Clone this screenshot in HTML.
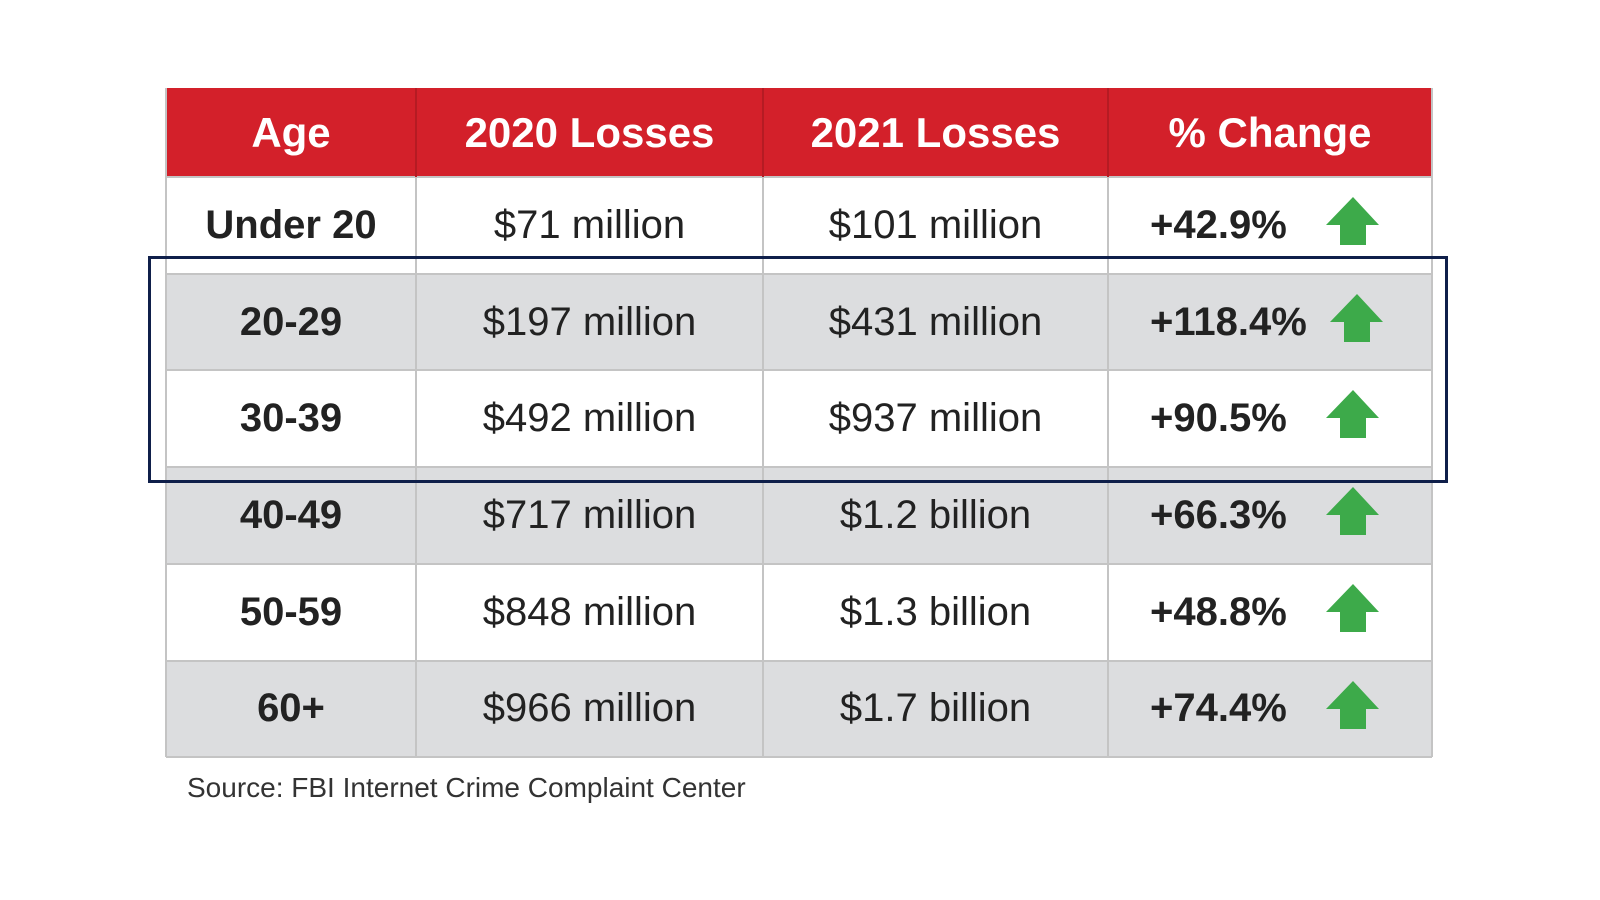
<!DOCTYPE html>
<html><head><meta charset="utf-8"><style>
body{margin:0;width:1600px;height:900px;background:#fff;position:relative;overflow:hidden;font-family:"Liberation Sans",sans-serif;color:#222}
.cell{position:absolute;display:flex;align-items:center;justify-content:center;box-sizing:border-box;font-size:40px}
.hdr{color:#fff;font-size:42px;font-weight:bold;background:#d3202a}
.v{position:absolute;background:#c4c4c4;width:2px}
.h{position:absolute;background:#c4c4c4;height:2px}
</style></head><body>
<div id="tbl"></div>
<div style="position:absolute;left:148px;top:256px;width:1300px;height:227px;border:3px solid #0f1f4a;box-sizing:border-box"></div>
<div style="position:absolute;left:187px;top:772px;font-size:28px;color:#333">Source: FBI Internet Crime Complaint Center</div>
<script>
const headers=["Age","2020 Losses","2021 Losses","% Change"];
const ages=["Under 20","20-29","30-39","40-49","50-59","60+"];
const losses2020=["$71 million","$197 million","$492 million","$717 million","$848 million","$966 million"];
const losses2021=["$101 million","$431 million","$937 million","$1.2 billion","$1.3 billion","$1.7 billion"];
const changes=["+42.9%","+118.4%","+90.5%","+66.3%","+48.8%","+74.4%"];
const colX=[166,416,763,1108,1432];
const top0=88,hdrH=89,rowH=96.7;
const t=document.getElementById('tbl');
function mk(l,tp,w,h,cls,txt){const d=document.createElement('div');d.className=cls;d.style.left=l+'px';d.style.top=tp+'px';d.style.width=w+'px';d.style.height=h+'px';if(txt!==undefined)d.textContent=txt;t.appendChild(d);return d;}
const hb=mk(colX[0],top0,colX[4]-colX[0],hdrH,'cell hdr','');


headers.forEach((h,i)=>{const c=mk(colX[i],top0,colX[i+1]-colX[i],hdrH,'cell hdr',h);

});
for(let r=0;r<ages.length;r++){
 const y=top0+hdrH+r*rowH;
 const bg=mk(colX[0],y,colX[4]-colX[0],rowH,'cell','');
 bg.style.background=r%2?'#dcdddf':'#fff';
 
 
 const vals=[ages[r],losses2020[r],losses2021[r]];
 vals.forEach((v,i)=>{const c=mk(colX[i],y,colX[i+1]-colX[i],rowH,'cell',v);
  if(i===0)c.style.fontWeight='bold';
  
  });
 const p=mk(colX[3]+42,y,240,rowH,'cell',changes[r]);
 p.style.justifyContent='flex-start';p.style.fontWeight='bold';
 
 
 const ax=changes[r].length>6?1330:1326;
 const a=document.createElementNS('http://www.w3.org/2000/svg','svg');
 a.setAttribute('width','54');a.setAttribute('height','50');
 a.style.position='absolute';a.style.left=ax+'px';a.style.top=(y+20)+'px';
 a.innerHTML='<polygon points="27,0 53,28 40,28 40,48 14,48 14,28 0,28" fill="#3daa4a"/>';
 
 
 t.appendChild(a);
 const hl=mk(colX[0],y-1,colX[4]-colX[0],2,'h');
 
 
}
const bottom=top0+hdrH+ages.length*rowH;
const bl=mk(colX[0],bottom-1,colX[4]-colX[0],2,'h');


colX.forEach((x,i)=>{const v=mk(x-1,top0+(i===0||i===4?0:hdrH),2,bottom-top0-(i===0||i===4?0:hdrH),'v');
 if(i>0&&i<4){const hv=mk(x-1,top0,2,hdrH,'v');hv.style.background='#b51b23';
 
 }
 
 });
</script>
</body></html>
